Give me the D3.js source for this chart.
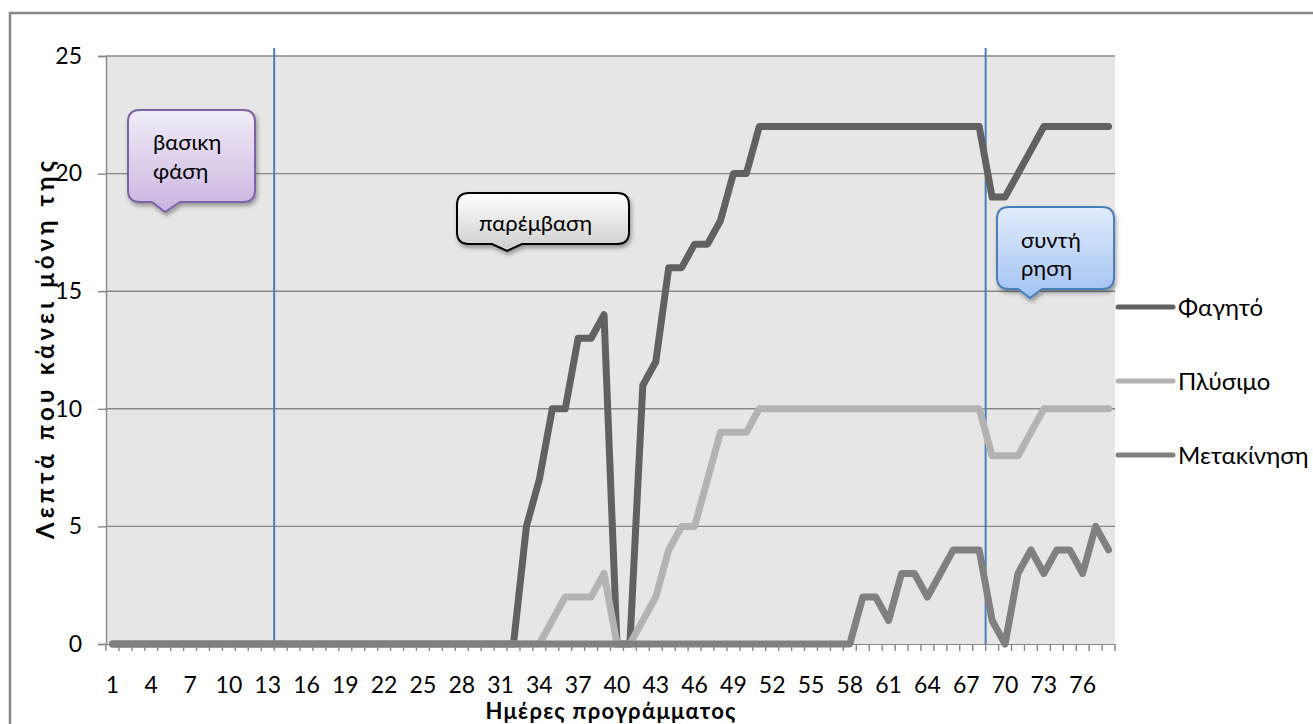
<!DOCTYPE html>
<html>
<head>
<meta charset="utf-8">
<script src="https://cdn.jsdelivr.net/npm/d3@7"></script>
<style>
  body { margin: 0; background: #fff; }
  text { font-family: Lato, "Open Sans", sans-serif; fill: #000; }
</style>
</head>
<body>
<script>
// Δεδομένα
const days = d3.range(1, 79);
const tickDays = [1, 4, 7, 10, 13, 16, 19, 22, 25, 28, 31, 34, 37, 40, 43, 46, 49, 52, 55, 58, 61, 64, 67, 70, 73, 76];
const yTicks = [0, 5, 10, 15, 20, 25];

const food = [
  0, 0, 0, 0, 0, 0, 0, 0, 0, 0,
  0, 0, 0, 0, 0, 0, 0, 0, 0, 0,
  0, 0, 0, 0, 0, 0, 0, 0, 0, 0,
  0, 0, 5, 7, 10, 10, 13, 13, 14, 0,
  0, 11, 12, 16, 16, 17, 17, 18, 20, 20,
  22, 22, 22, 22, 22, 22, 22, 22, 22, 22,
  22, 22, 22, 22, 22, 22, 22, 22, 19, 19,
  20, 21, 22, 22, 22, 22, 22, 22];
const washing = [
  0, 0, 0, 0, 0, 0, 0, 0, 0, 0,
  0, 0, 0, 0, 0, 0, 0, 0, 0, 0,
  0, 0, 0, 0, 0, 0, 0, 0, 0, 0,
  0, 0, 0, 0, 1, 2, 2, 2, 3, 0,
  0, 1, 2, 4, 5, 5, 7, 9, 9, 9,
  10, 10, 10, 10, 10, 10, 10, 10, 10, 10,
  10, 10, 10, 10, 10, 10, 10, 10, 8, 8,
  8, 9, 10, 10, 10, 10, 10, 10];
const moving = [
  0, 0, 0, 0, 0, 0, 0, 0, 0, 0,
  0, 0, 0, 0, 0, 0, 0, 0, 0, 0,
  0, 0, 0, 0, 0, 0, 0, 0, 0, 0,
  0, 0, 0, 0, 0, 0, 0, 0, 0, 0,
  0, 0, 0, 0, 0, 0, 0, 0, 0, 0,
  0, 0, 0, 0, 0, 0, 0, 0, 2, 2,
  1, 3, 3, 2, 3, 4, 4, 4, 1, 0,
  3, 4, 3, 4, 4, 3, 5, 4];

const seriesNames = ['Φαγητό', 'Πλύσιμο', 'Μετακίνηση'];
const seriesColors = ['#616161', '#b3b3b3', '#808080'];
const series = [food, washing, moving];

// Όρια φάσεων (μετά την ημέρα 13 και 68)
const phaseStarts = [14, 69];

const W = 1313, H = 724;
const margin = { top: 56, right: 198, bottom: 80, left: 106 };
const width = W - margin.left - margin.right;
const height = H - margin.top - margin.bottom;

const svg = d3.select('body').append('svg')
  .attr('width', W)
  .attr('height', H);

const defs = svg.append('defs');
const shadow = defs.append('filter').attr('id', 'shadow')
  .attr('x', '-20%').attr('y', '-20%').attr('width', '140%').attr('height', '150%');
shadow.append('feDropShadow')
  .attr('dx', 1.5).attr('dy', 3).attr('stdDeviation', 2)
  .attr('flood-color', '#000').attr('flood-opacity', 0.35);

function gradient(id, top, bottom) {
  const g = defs.append('linearGradient').attr('id', id)
    .attr('x1', 0).attr('y1', 0).attr('x2', 0).attr('y2', 1);
  g.append('stop').attr('offset', '0%').attr('stop-color', top);
  g.append('stop').attr('offset', '100%').attr('stop-color', bottom);
}
gradient('gPurple', '#f1ecf8', '#c9b5e0');
gradient('gGray', '#ffffff', '#cdcdcd');
gradient('gBlue', '#e1ecfc', '#a1c2f2');

// Εξωτερικό πλαίσιο
svg.append('rect')
  .attr('x', 10).attr('y', 13)
  .attr('width', 1330).attr('height', 740)
  .attr('fill', 'none')
  .attr('stroke', '#878787')
  .attr('stroke-width', 2.5);

const g = svg.append('g')
  .attr('transform', `translate(${margin.left}, ${margin.top})`);

const x = d3.scaleBand()
  .domain(days)
  .range([0, width])
  .padding(0);

const y = d3.scaleLinear()
  .domain([0, 25])
  .range([height, 0]);

// Φόντο
g.append('rect')
  .attr('width', width)
  .attr('height', height)
  .attr('fill', '#e6e6e6');

// Γραμμές πλέγματος
g.append('g')
  .selectAll('line')
  .data(yTicks.slice(1))
  .join('line')
  .attr('x1', 0).attr('x2', width)
  .attr('y1', d => y(d)).attr('y2', d => y(d))
  .attr('stroke', '#878787')
  .attr('stroke-width', 1.4);

// Άξονας Y
const yAxis = g.append('g')
  .call(d3.axisLeft(y).tickValues(yTicks).tickSize(8).tickPadding(16));
yAxis.selectAll('line, .domain').attr('stroke', '#878787').attr('stroke-width', 1.4);
yAxis.selectAll('text')
  .style('font-family', 'Lato, "Open Sans", sans-serif')
  .style('font-size', '23px')
  .attr('fill', '#000');

// Άξονας X
const xAxis = g.append('g')
  .attr('transform', `translate(0, ${height})`)
  .call(d3.axisBottom(x).tickValues(tickDays).tickSize(0).tickPadding(33));
xAxis.select('.domain').attr('stroke', '#878787');
xAxis.selectAll('text')
  .style('font-family', 'Lato, "Open Sans", sans-serif')
  .style('font-size', '23px')
  .attr('fill', '#000');

// Μικρές γραμμές ανάμεσα στις κατηγορίες
g.append('g')
  .selectAll('line')
  .data(days.map(d => x(d)).concat([width]))
  .join('line')
  .attr('x1', d => d).attr('x2', d => d)
  .attr('y1', height).attr('y2', height + 7)
  .attr('stroke', '#878787')
  .attr('stroke-width', 1.4);

// Κάθετες γραμμές φάσεων
g.append('g')
  .selectAll('line')
  .data(phaseStarts)
  .join('line')
  .attr('x1', d => x(d)).attr('x2', d => x(d))
  .attr('y1', -8).attr('y2', height)
  .attr('stroke', '#4a7ebb')
  .attr('stroke-width', 2);

// Γραμμές σειρών
const line = d3.line()
  .x((d, i) => x(days[i]) + x.bandwidth() / 2)
  .y(d => y(d));

g.append('g')
  .selectAll('path')
  .data(series)
  .join('path')
  .attr('d', d => line(d))
  .attr('fill', 'none')
  .attr('stroke', (d, i) => seriesColors[i])
  .attr('stroke-width', 7)
  .attr('stroke-linejoin', 'round')
  .attr('stroke-linecap', 'round');

// Λεζάντα
const legend = svg.append('g')
  .selectAll('g')
  .data(seriesNames)
  .join('g')
  .attr('transform', (d, i) => `translate(1118, ${307 + i * 74})`);
legend.append('line')
  .attr('x1', 0).attr('x2', 55)
  .attr('stroke', (d, i) => seriesColors[i])
  .attr('stroke-width', 5)
  .attr('stroke-linecap', 'round');
legend.append('text')
  .attr('x', 60)
  .attr('dy', '0.36em')
  .style('font-size', '24px')
  .text(d => d);

// Τίτλοι αξόνων
svg.append('text')
  .attr('transform', `translate(54, ${margin.top + height / 2}) rotate(-90)`)
  .attr('text-anchor', 'middle')
  .attr('textLength', 378)
  .attr('lengthAdjust', 'spacing')
  .style('font-size', '24px')
  .style('font-weight', 'bold')
  .text('Λεπτά που κάνει μόνη της');

svg.append('text')
  .attr('x', margin.left + width / 2)
  .attr('y', 719)
  .attr('text-anchor', 'middle')
  .attr('textLength', 250)
  .attr('lengthAdjust', 'spacing')
  .style('font-size', '22px')
  .style('font-weight', 'bold')
  .text('Ημέρες προγράμματος');

// Σημειώσεις (callouts)
const notes = [
  { x0: 128, y0: 110, x1: 255, y1: 202, t0: 152, t1: 180, tipX: 165, tipY: 212, fill: 'url(#gPurple)', stroke: '#7d62a5', lines: ['βασικη', 'φάση'], tx: 153, ty: 150, lh: 29 },
  { x0: 457, y0: 193, x1: 629, y1: 244, t0: 492, t1: 522, tipX: 507, tipY: 251, fill: 'url(#gGray)', stroke: '#000', lines: ['παρέμβαση'], tx: 479, ty: 231, lh: 0 },
  { x0: 997, y0: 207, x1: 1114, y1: 289, t0: 1018, t1: 1042, tipX: 1030, tipY: 298, fill: 'url(#gBlue)', stroke: '#4a7ebb', lines: ['συντή', 'ρηση'], tx: 1021, ty: 248, lh: 28 }
];

function calloutPath(n) {
  const r = 12;
  const p = d3.path();
  p.moveTo(n.x0 + r, n.y0);
  p.lineTo(n.x1 - r, n.y0);
  p.quadraticCurveTo(n.x1, n.y0, n.x1, n.y0 + r);
  p.lineTo(n.x1, n.y1 - r);
  p.quadraticCurveTo(n.x1, n.y1, n.x1 - r, n.y1);
  p.lineTo(n.t1, n.y1);
  p.lineTo(n.tipX, n.tipY);
  p.lineTo(n.t0, n.y1);
  p.lineTo(n.x0 + r, n.y1);
  p.quadraticCurveTo(n.x0, n.y1, n.x0, n.y1 - r);
  p.lineTo(n.x0, n.y0 + r);
  p.quadraticCurveTo(n.x0, n.y0, n.x0 + r, n.y0);
  p.closePath();
  return p.toString();
}

const callouts = svg.append('g')
  .selectAll('g')
  .data(notes)
  .join('g');
callouts.append('path')
  .attr('d', d => calloutPath(d))
  .attr('fill', d => d.fill)
  .attr('stroke', d => d.stroke)
  .attr('stroke-width', 2)
  .attr('filter', 'url(#shadow)');
callouts.each(function (d) {
  d3.select(this).selectAll('text')
    .data(d.lines)
    .join('text')
    .attr('x', d.tx)
    .attr('y', (t, i) => d.ty + i * d.lh)
    .style('font-size', '22px')
    .attr('fill', '#111')
    .text(t => t);
});
</script>
</body>
</html>
